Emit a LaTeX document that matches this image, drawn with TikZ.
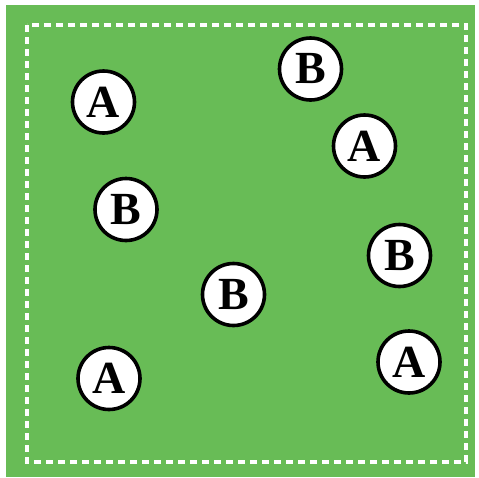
\documentclass[tikz,border=0pt]{standalone}
\usepackage{fontspec}
\setmainfont{Liberation Serif}[BoldFont={Liberation Serif Bold}]
\definecolor{fieldgreen}{RGB}{104,188,86}
\begin{document}
\begin{tikzpicture}[x=1pt,y=-1pt,
  player/.style={circle,draw=black,line width=3.6pt,fill=white,minimum size=62pt,inner sep=0pt,
    font=\fontsize{46}{46}\selectfont\bfseries}]
\useasboundingbox (0,0) rectangle (479,477);
\fill[white] (0,0) rectangle (479,477);
\fill[fieldgreen] (6,5) rectangle (475,477);
\draw[white,line width=3.3pt,dash pattern=on 7pt off 5pt] (27,25) rectangle (466,462);
\node[player] (a1) at (103.5,102) {A};
\node[player] (b1) at (310.5,69) {B};
\node[player] (a2) at (364.5,146) {A};
\node[player] (b2) at (126,209.5) {B};
\node[player] (b3) at (399.5,255.5) {B};
\node[player] (b4) at (233.5,294.5) {B};
\node[player] (a3) at (109,378.5) {A};
\node[player] (a4) at (409,362) {A};
\end{tikzpicture}
\end{document}
